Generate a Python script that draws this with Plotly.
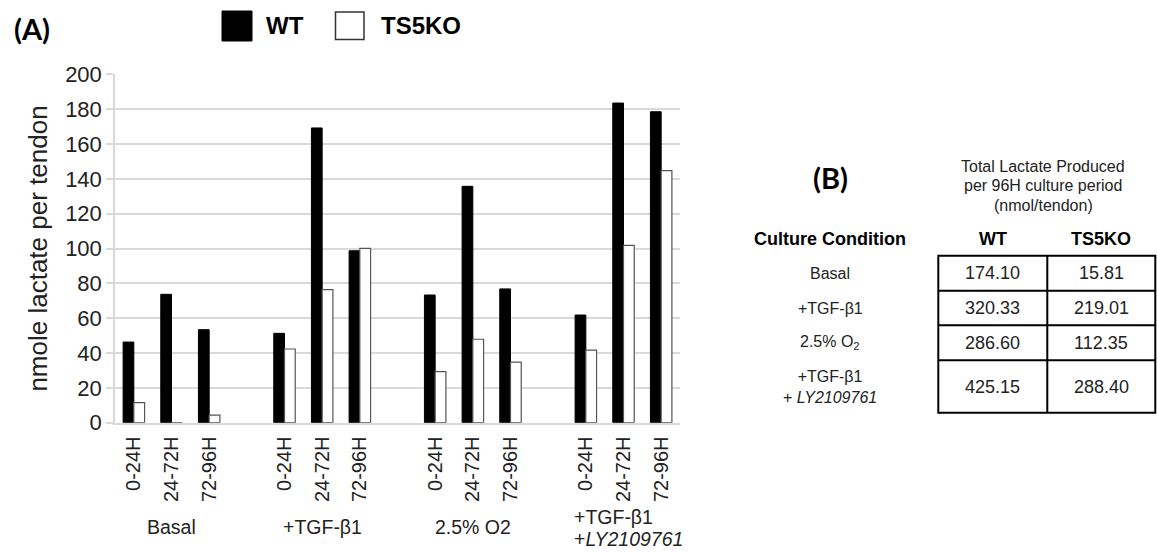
import plotly.graph_objects as go

# ---- data -------------------------------------------------------------
conditions = ["Basal", "+TGF-β1", "2.5% O2", ["+TGF-β1", "+<i>LY2109761</i>"]]
periods = ["0-24H", "24-72H", "72-96H"]

wt_values = [46.3, 73.7, 53.4,
             51.3, 169.2, 98.7,
             73.3, 135.7, 76.8,
             61.8, 183.5, 178.5]
ko_values = [11.5, 0.0, 4.4,
             42.3, 76.4, 100.1,
             29.3, 47.9, 34.8,
             41.7, 101.8, 144.7]

y_ticks = [0, 20, 40, 60, 80, 100, 120, 140, 160, 180, 200]

table_conditions = ["Basal", "+TGF-β1", "2.5% O<sub>2</sub>", "+TGF-β1<br>+ <i>LY2109761</i>"]
total_wt = ["174.10", "320.33", "286.60", "425.15"]
total_ko = ["15.81", "219.01", "112.35", "288.40"]

# ---- layout helpers ---------------------------------------------------
W, H = 1157, 553
FONT = "Liberation Sans, Arial, sans-serif"


def px(x):
    return x / W


def py(y):
    return 1 - y / H


# one empty slot between condition groups
x_pos = []
tick_text = []
for g in range(len(conditions)):
    for p, lab in enumerate(periods):
        x_pos.append(g * 4 + p)
        tick_text.append(lab)

fig = go.Figure()
fig.add_trace(go.Bar(
    x=x_pos, y=wt_values, name="WT",
    marker=dict(color="black", line=dict(color="black", width=1)),
    showlegend=False,
))
fig.add_trace(go.Bar(
    x=x_pos, y=ko_values, name="TS5KO",
    marker=dict(color="white", line=dict(color="#555555", width=1.2)),
    showlegend=False,
))

x0_px, x1_px = 115, 680
y_top_px, y_bot_px = 74.3, 422.7

fig.update_layout(
    width=W, height=H,
    margin=dict(l=0, r=0, t=0, b=0, autoexpand=False),
    paper_bgcolor="white", plot_bgcolor="white",
    barmode="group", bargap=0.43, bargroupgap=0,
    font=dict(family=FONT, color="#222222"),
    xaxis=dict(
        domain=[px(x0_px), px(x1_px)],
        range=[-0.5, 14.5], automargin=False,
        tickmode="array", tickvals=x_pos, ticktext=tick_text,
        tickangle=-90, tickfont=dict(size=20, color="#222222"),
        showgrid=False, zeroline=False,
        showline=True, linecolor="#d9d9d9", linewidth=1.5,
        ticks="outside", ticklen=4, tickcolor="rgba(0,0,0,0)",
        fixedrange=True,
    ),
    yaxis=dict(
        domain=[py(y_bot_px), py(y_top_px)],
        range=[0, 200], automargin=False,
        tickmode="array", tickvals=y_ticks,
        tickfont=dict(size=22, color="#222222"),
        showgrid=True, gridcolor="#d9d9d9", gridwidth=1.5,
        zeroline=False,
        showline=True, linecolor="#d9d9d9", linewidth=1.5,
        ticks="outside", ticklen=7, tickcolor="#d9d9d9", tickwidth=1.5,
        title=dict(text="nmole lactate per tendon",
                   font=dict(size=26, color="#222222"), standoff=10),
        fixedrange=True,
    ),
)

ann = []
shapes = []

# panel letters
ann.append(dict(x=px(12), y=py(29), xref="paper", yref="paper",
                text="<b>(A)</b>", showarrow=False, xanchor="left", yanchor="middle",
                font=dict(family="Lato, sans-serif", size=29, color="black")))
ann.append(dict(x=px(830), y=py(177), xref="paper", yref="paper",
                text="<b>(B)</b>", showarrow=False, xanchor="center", yanchor="middle",
                font=dict(family="Lato, sans-serif", size=29, color="black")))

# legend
shapes.append(dict(type="rect", xref="paper", yref="paper",
                   x0=px(222), x1=px(252), y0=py(41), y1=py(11),
                   fillcolor="black", line=dict(color="black", width=1)))
ann.append(dict(x=px(264), y=py(26), xref="paper", yref="paper", text="<b>WT</b>",
                showarrow=False, xanchor="left", yanchor="middle",
                font=dict(size=24, color="black")))
shapes.append(dict(type="rect", xref="paper", yref="paper",
                   x0=px(335.5), x1=px(364), y0=py(39.5), y1=py(12),
                   fillcolor="white", line=dict(color="#333333", width=1.5)))
ann.append(dict(x=px(379), y=py(26), xref="paper", yref="paper", text="<b>TS5KO</b>",
                showarrow=False, xanchor="left", yanchor="middle",
                font=dict(size=24, color="black")))

# condition group labels below period ticks
for g, cond in enumerate(conditions):
    center = g * 4 + 1
    if isinstance(cond, list):
        for k, line in enumerate(cond):
            ann.append(dict(x=center - 1.37, xref="x", y=py(517 + 21.5 * k), yref="paper",
                            text=line, showarrow=False, xanchor="left", yanchor="middle",
                            font=dict(size=19.5, color="#222222")))
    else:
        ann.append(dict(x=center, xref="x", y=py(527), yref="paper",
                        text=cond, showarrow=False, xanchor="center", yanchor="middle",
                        font=dict(size=19.5, color="#222222")))

# ---- summary table ------------------------------------------------------
tx_label = 830
tx_wt, tx_ko = 992.8, 1101.3
col_l, col_m, col_r = 938.3, 1047.3, 1155.3
row_edges = [255.7, 290.7, 325.3, 360.3, 412.7]

for i, line in enumerate(["Total Lactate Produced", "per 96H culture period", "(nmol/tendon)"]):
    ann.append(dict(x=px(1043), y=py(166 + 19.5 * i), xref="paper", yref="paper",
                    text=line, showarrow=False, xanchor="center", yanchor="middle",
                    font=dict(size=16, color="#222222")))

ann.append(dict(x=px(tx_label), y=py(239), xref="paper", yref="paper",
                text="<b>Culture Condition</b>", showarrow=False,
                xanchor="center", yanchor="middle", font=dict(size=18, color="black")))
ann.append(dict(x=px(tx_wt), y=py(239), xref="paper", yref="paper",
                text="<b>WT</b>", showarrow=False,
                xanchor="center", yanchor="middle", font=dict(size=18, color="black")))
ann.append(dict(x=px(tx_ko), y=py(239), xref="paper", yref="paper",
                text="<b>TS5KO</b>", showarrow=False,
                xanchor="center", yanchor="middle", font=dict(size=18, color="black")))

shapes.append(dict(type="rect", xref="paper", yref="paper",
                   x0=px(col_l), x1=px(col_r), y0=py(row_edges[-1]), y1=py(row_edges[0]),
                   line=dict(color="black", width=2), fillcolor="rgba(0,0,0,0)"))
shapes.append(dict(type="line", xref="paper", yref="paper",
                   x0=px(col_m), x1=px(col_m), y0=py(row_edges[-1]), y1=py(row_edges[0]),
                   line=dict(color="black", width=2)))
for ye in row_edges[1:-1]:
    shapes.append(dict(type="line", xref="paper", yref="paper",
                       x0=px(col_l), x1=px(col_r), y0=py(ye), y1=py(ye),
                       line=dict(color="black", width=2)))

for i, (cond, vwt, vko) in enumerate(zip(table_conditions, total_wt, total_ko)):
    yc = (row_edges[i] + row_edges[i + 1]) / 2
    ann.append(dict(x=px(tx_label), y=py(yc), xref="paper", yref="paper",
                    text=cond, showarrow=False, xanchor="center", yanchor="middle",
                    font=dict(size=16, color="#222222")))
    ann.append(dict(x=px(tx_wt), y=py(yc), xref="paper", yref="paper",
                    text=vwt, showarrow=False, xanchor="center", yanchor="middle",
                    font=dict(size=18, color="#222222")))
    ann.append(dict(x=px(tx_ko), y=py(yc), xref="paper", yref="paper",
                    text=vko, showarrow=False, xanchor="center", yanchor="middle",
                    font=dict(size=18, color="#222222")))

fig.update_layout(annotations=ann, shapes=shapes)
fig.write_html("out.html")
